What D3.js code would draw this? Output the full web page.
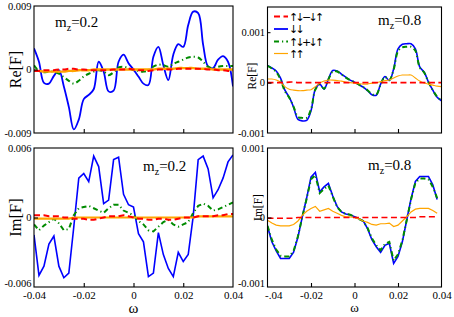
<!DOCTYPE html>
<html><head><meta charset="utf-8">
<script src="https://cdn.jsdelivr.net/npm/d3@7/dist/d3.min.js"></script>
<style>
html,body{margin:0;padding:0;background:#fff;}
svg{display:block;font-family:"Liberation Serif","Times New Roman",serif;}
</style></head><body>
<svg id="c" width="454" height="317"></svg>
<script>
// ---------- data ----------
const omega = [-0.040,-0.038,-0.036,-0.034,-0.032,-0.030,-0.028,-0.026,-0.024,-0.022,-0.020,-0.018,-0.016,-0.014,-0.012,-0.010,-0.008,-0.006,-0.004,-0.002,0.000,0.002,0.004,0.006,0.008,0.010,0.012,0.014,0.016,0.018,0.020,0.022,0.024,0.026,0.028,0.030,0.032,0.034,0.036,0.038,0.040];
const omegaShort = [-0.040,-0.038,-0.036,-0.034,-0.032,-0.030,-0.028,-0.026,-0.024,-0.022,-0.020,-0.018,-0.016,-0.014,-0.012,-0.010,-0.008,-0.006,-0.004,-0.002,0.000,0.002,0.004,0.006,0.008,0.010,0.012,0.014,0.016,0.018,0.020,0.022,0.024,0.026,0.028,0.030,0.032,0.034,0.036,0.038];

const seriesNames = ["↑↓−↓↑","↓↓","↑↓+↓↑","↑↑"];

// Re[F], m_z = 0.2
const re02Minus = [-0.0002,-0.0002,-0.0001,-0.0001,-0.0001,0,0,0.0001,0.0001,0,0,-0.0001,-0.0001,-0.0001,-0.0001,-0.0001,0,0,0,0.0001,0,-0.0001,-0.0001,-0.0002,-0.0001,0,0,0,0,0.0001,0.0001,0.0001,0.0001,0.0001,0.0001,0,0,-0.0001,-0.0001,-0.0002,-0.0002];
const re02DownDown = [0.0030,0.0011,-0.0019,-0.0020,-0.0009,-0.0001,-0.0024,-0.0053,-0.0085,-0.0071,-0.0042,-0.0036,-0.0028,0.0011,-0.0003,-0.0031,-0.0030,0.0011,0.0021,0.0009,0.0000,-0.0010,-0.0020,-0.0022,0.0018,0.0032,0.0006,-0.0015,0.0021,0.0036,0.0032,0.0063,0.0082,0.0080,0.0035,0.0004,0.0002,0.0014,0.0019,0.0011,-0.0024];
const re02Plus = [0.0006,-0.0002,-0.0004,-0.0003,-0.0003,-0.0006,-0.0011,-0.0016,-0.0020,-0.0016,-0.0010,-0.0006,-0.0003,-0.0001,-0.0003,-0.0008,-0.0004,0.0003,0.0004,0.0002,-0.0001,-0.0002,-0.0003,-0.0001,0.0004,0.0007,0.0006,0.0004,0.0008,0.0011,0.0014,0.0017,0.0018,0.0017,0.0011,0.0004,0.0002,0.0004,0.0005,0.0005,0.0005];
const re02UpUp = [-0.0002,-0.0002,-0.0003,-0.0003,-0.0003,-0.0003,-0.0003,-0.0002,-0.0002,-0.0001,-0.0001,-0.0001,0,0,0,0,0,0,0,0,0,0,0,0,0,0.0001,0.0001,0.0001,0.0001,0.0002,0.0002,0.0002,0.0002,0.0001,0.0001,0.0001,0,0,0,0,0];

// Re[F], m_z = 0.8
const re08Minus = [0,0,0,0,0,0.00001,0.00001,0,0,0,0,0,0,0,0,0,0,0,0,0,0,0,0,0,0,0,0,0,0,0,0,0,0,0,0,0,0,0,0,0,0];
const re08DownDown = [0.00034,0.00029,0.00023,0.00009,-0.00015,-0.00029,-0.00049,-0.00073,-0.00076,-0.00075,-0.00056,-0.00013,-0.00003,-0.00013,0.00007,0.00024,0.00023,0.00017,0.00011,0.00005,0.00001,-0.00004,-0.00009,-0.00016,-0.00024,-0.00025,-0.00003,0.00012,0.00004,0.00027,0.00067,0.00076,0.00077,0.00077,0.00067,0.00031,0.00021,0.00001,-0.00015,-0.00029,-0.00036];
const re08Plus = [0.00033,0.00028,0.00021,0.00006,-0.00017,-0.00030,-0.00048,-0.00068,-0.00070,-0.00070,-0.00053,-0.00014,-0.00004,-0.00012,0.00006,0.00022,0.00022,0.00016,0.00010,0.00005,0.00001,-0.00004,-0.00009,-0.00015,-0.00023,-0.00024,-0.00004,0.00011,0.00005,0.00026,0.00062,0.00070,0.00071,0.00071,0.00063,0.00030,0.00020,0.00001,-0.00015,-0.00028,-0.00035];
const re08UpUp = [0.00007,0.00007,0.00005,0.00001,-0.00008,-0.00013,-0.00015,-0.00016,-0.00016,-0.00015,-0.00014,-0.00008,-0.00001,0.00003,0.00005,0.00005,0.00004,0.00003,0.00001,0,-0.00001,-0.00002,-0.00003,-0.00003,-0.00001,0,0.00002,0.00004,0.00005,0.00009,0.00013,0.00015,0.00015,0.00015,0.00009,0.00003,-0.00001,-0.00003,-0.00005,-0.00007,-0.00008];

// Im[F], m_z = 0.2
const im02Minus = [0.0002,0.0002,0.0002,0.0001,0.0001,0.0001,0,0,-0.0001,-0.0001,-0.0001,-0.0002,-0.0002,-0.0001,0,0.0001,0.0001,0.0001,0.0002,0.0001,0,-0.0001,-0.0001,-0.0002,-0.0002,-0.0001,-0.0001,-0.0002,-0.0002,-0.0001,0,0,0,0.0001,0.0001,0.0001,0.0001,0.0002,0.0002,0.0003,0.0003];
const im02DownDown = [-0.0015,-0.0050,-0.0042,-0.0023,-0.0016,-0.0042,-0.0052,-0.0048,-0.0008,0.0034,0.0038,0.0031,0.0053,0.0044,0.0012,0.0015,0.0050,0.0052,0.0020,0.0011,0.0009,-0.0014,-0.0021,-0.0051,-0.0048,-0.0013,-0.0032,-0.0044,-0.0051,-0.0030,-0.0038,-0.0032,0.0001,0.0050,0.0053,0.0042,0.0017,0.0024,0.0034,0.0048,0.0054];
const im02Plus = [-0.0006,-0.0011,-0.0007,-0.0004,-0.0001,-0.0005,-0.0011,-0.0010,0.0002,0.0008,0.0009,0.0010,0.0008,0.0006,0.0004,0.0008,0.0011,0.0011,0.0006,0.0004,0.0002,-0.0003,-0.0006,-0.0011,-0.0012,-0.0008,-0.0004,-0.0002,-0.0006,-0.0008,-0.0006,-0.0004,0.0004,0.0010,0.0012,0.0010,0.0006,0.0007,0.0009,0.0011,0.0013];
const im02UpUp = [-0.0001,-0.0001,-0.0001,-0.0001,-0.0001,-0.0001,-0.0001,-0.0001,0,0,0,0,0,0,0,0,0,0,0,0,0,0,0,0,0,0,0,0,0,0,0,0,0,0.0001,0.0001,0.0001,0.0001,0.0001,0.0001,0.0001,0.0001];

// Im[F], m_z = 0.8
const im08Minus = [-0.00001,-0.00001,-0.00001,-0.00001,-0.00001,-0.00001,-0.00001,0,0,0,0,0,0,0,0,0,0,0,0,0,0,0,0,0,0,0,0,0,0,0,0,0,0,0,0,0.00001,0.00001,0.00001,0.00001,0.00001];
const im08DownDown = [-0.00013,-0.00035,-0.00048,-0.00059,-0.00059,-0.00059,-0.00050,-0.00028,0.00001,0.00028,0.00058,0.00065,0.00037,0.00044,0.00049,0.00031,0.00016,0.00008,0.00005,0.00004,0.00001,-0.00002,-0.00005,-0.00016,-0.00032,-0.00042,-0.00050,-0.00040,-0.00037,-0.00066,-0.00056,-0.00035,-0.00004,0.00027,0.00052,0.00059,0.00059,0.00059,0.00047,0.00026];
const im08Plus = [-0.00012,-0.00032,-0.00046,-0.00055,-0.00056,-0.00056,-0.00048,-0.00027,0.00001,0.00027,0.00055,0.00061,0.00035,0.00041,0.00046,0.00030,0.00015,0.00008,0.00005,0.00004,0.00001,-0.00002,-0.00005,-0.00015,-0.00030,-0.00040,-0.00047,-0.00038,-0.00035,-0.00062,-0.00053,-0.00033,-0.00004,0.00026,0.00050,0.00056,0.00056,0.00055,0.00044,0.00028];
const im08UpUp = [-0.00004,-0.00008,-0.00011,-0.00012,-0.00012,-0.00012,-0.00010,-0.00005,0.00003,0.00009,0.00013,0.00016,0.00009,0.00011,0.00013,0.00009,0.00006,0.00003,0.00001,0.00001,0,-0.00002,-0.00005,-0.00007,-0.00010,-0.00011,-0.00009,-0.00009,-0.00008,-0.00013,-0.00011,-0.00005,0.00001,0.00008,0.00012,0.00013,0.00013,0.00013,0.00010,0.00006];

// tick labels
const xTickValues = [-0.04,-0.02,0,0.02,0.04];
const xTickLabelsLeft = ["-0.04","-0.02","0","0.02","0.04"];
const xTickLabelsRight = ["-.04","-0.02","0","0.02","0.04"];
const yTicksRe02 = [-0.009,0,0.009], yLabelsRe02 = ["-0.009","0","0.009"];
const yTicksRe08 = [-0.001,0,0.001], yLabelsRe08 = ["-0.001","0","0.001"];
const yTicksIm02 = [-0.006,0,0.006], yLabelsIm02 = ["-0.006","0","0.006"];
const yTicksIm08 = [-0.001,0,0.001], yLabelsIm08 = ["-0.001","0","0.001"];

// ---------- drawing ----------
const svg = d3.select("#c");
const colors = ["#ff0000","#0000ff","#008b00","#ffa500"];
const dashes = ["6,3.5", null, "5,3,1.2,3", null];

const panels = [
  {x0:34, x1:233, y0:6, y1:133, yd:[-0.009,0.009], om:omega, data:[re02Minus,re02DownDown,re02Plus,re02UpUp],
   curve:d3.curveCatmullRom.alpha(0.5), yt:yTicksRe02, yl:yLabelsRe02, ylab:"Re[F]", ylabX:21, ylabFs:16,
   mz:"0.2", mzX:55, mzY:27, xl:null, widths:[2,1.8,2,2.4]},
  {x0:267.5, x1:441.5, y0:7, y1:133, yd:[-0.001,0.0015], om:omega, data:[re08Minus,re08DownDown,re08Plus,re08UpUp],
   curve:d3.curveCatmullRom.alpha(0.5), yt:yTicksRe08, yl:yLabelsRe08, ylab:"Re[F]", ylabX:256, ylabFs:11.5,
   mz:"0.8", mzX:378, mzY:25, xl:null, widths:[1.6,1.6,2,1.1], legend:true},
  {x0:34, x1:233, y0:148, y1:287, yd:[-0.006,0.006], om:omega, data:[im02Minus,im02DownDown,im02Plus,im02UpUp],
   curve:d3.curveLinear, yt:yTicksIm02, yl:yLabelsIm02, ylab:"Im[F]", ylabX:21, ylabFs:16.5,
   mz:"0.2", mzX:143, mzY:171, xl:xTickLabelsLeft, widths:[2,1.6,2,2.2]},
  {x0:267.5, x1:441.5, y0:148, y1:287, yd:[-0.001,0.001], om:omegaShort, data:[im08Minus,im08DownDown,im08Plus,im08UpUp],
   curve:d3.curveLinear, yt:yTicksIm08, yl:yLabelsIm08, ylab:"Im[F]", ylabX:262, ylabFs:11.5,
   mz:"0.8", mzX:368, mzY:170, xl:xTickLabelsRight, widths:[1.6,1.6,2,1.2]}
];

panels.forEach((p,pi) => {
  const x = d3.scaleLinear().domain([-0.04,0.04]).range([p.x0,p.x1]);
  const y = d3.scaleLinear().domain(p.yd).range([p.y1,p.y0]);
  const g = svg.append("g");
  const clipId = "clip"+pi;
  svg.append("clipPath").attr("id",clipId).append("rect")
    .attr("x",p.x0).attr("y",p.y0).attr("width",p.x1-p.x0).attr("height",p.y1-p.y0);

  // lines (order: blue, green, orange, red)
  const line = d3.line().x((d,i)=>x(p.om[i])).y(d=>y(d)).curve(p.curve);
  [1,2,3,0].forEach(si => {
    g.append("path").attr("clip-path",`url(#${clipId})`)
      .attr("d", line(p.data[si]))
      .attr("fill","none").attr("stroke",colors[si])
      .attr("stroke-width",p.widths[si])
      .attr("stroke-dasharray",dashes[si]);
  });

  // frame
  g.append("rect").attr("x",p.x0).attr("y",p.y0).attr("width",p.x1-p.x0).attr("height",p.y1-p.y0)
    .attr("fill","none").attr("stroke","#000").attr("stroke-width",1.1);

  // inward x ticks
  const xt = g.append("g").attr("transform",`translate(0,${p.y1})`)
    .call(d3.axisTop(x).tickValues([-0.02,0,0.02]).tickSize(4).tickFormat(""));
  xt.select(".domain").remove();
  xt.selectAll("line").attr("stroke","#000").attr("stroke-width",1.1);

  // inward y ticks
  const ytk = g.append("g").attr("transform",`translate(${p.x0},0)`)
    .call(d3.axisRight(y).tickValues([0]).tickSize(4).tickFormat(""));
  ytk.select(".domain").remove();
  ytk.selectAll("line").attr("stroke","#000").attr("stroke-width",1.1);
  if (pi===1) {
    const yt2 = g.append("g").attr("transform",`translate(${p.x0},0)`)
      .call(d3.axisRight(y).tickValues([0.001]).tickSize(3).tickFormat(""));
    yt2.select(".domain").remove();
    yt2.selectAll("line").attr("stroke","#000");
  }

  // y tick labels
  const yla = g.append("g").attr("transform",`translate(${p.x0-2.5},0)`)
    .call(d3.axisLeft(y).tickValues(p.yt).tickSize(0).tickPadding(0).tickFormat((d,i)=>p.yl[i]));
  yla.attr("font-family",null);
  yla.select(".domain").remove();
  yla.selectAll("text").attr("font-family","Liberation Serif").attr("font-size",10.5).attr("fill","#000");
  if (p.xl) {
    yla.selectAll("text").filter((d,i)=>i===0).attr("dy","-0.05em");
  }

  // x tick labels (bottom panels)
  if (p.xl) {
    const xla = g.append("g").attr("transform",`translate(0,${p.y1})`)
      .call(d3.axisBottom(x).tickValues(xTickValues).tickSize(0).tickPadding(4.5).tickFormat((d,i)=>p.xl[i]));
    xla.attr("font-family",null);
    xla.select(".domain").remove();
    xla.selectAll("text").attr("font-family","Liberation Serif").attr("font-size",11).attr("fill","#000");
    if (pi===3) {
      xla.selectAll("text").filter((d,i)=>i===0).attr("text-anchor","start").attr("dx",-3);
    }
    g.append("text").attr("x",(p.x0+p.x1)/2).attr("y", pi===2 ? 313 : 312)
      .attr("text-anchor","middle").attr("font-size", pi===2 ? 15 : 13).text("ω");
  }

  // y axis label
  g.append("text").attr("transform",`translate(${p.ylabX},${(p.y0+p.y1)/2 + (pi===3 ? -10 : (pi===1? 6:0))}) rotate(-90)`)
    .attr("text-anchor","middle").attr("font-size",p.ylabFs).text(p.ylab);

  // m_z annotation
  const t = g.append("text").attr("x",p.mzX).attr("y",p.mzY).attr("font-size",15);
  t.append("tspan").text("m");
  t.append("tspan").attr("font-size",10).attr("dy",4).text("z");
  t.append("tspan").attr("dy",-4).text("=" + p.mz);

  // legend
  if (p.legend) {
    const rowsY = [16.5,29,41.5,53.5];
    seriesNames.forEach((nm,i) => {
      g.append("line").attr("x1",274).attr("x2",288).attr("y1",rowsY[i]).attr("y2",rowsY[i])
        .attr("stroke",colors[i]).attr("stroke-width",i===3?1.2:1.8).attr("stroke-dasharray",dashes[i]);
      g.append("text").attr("x",289).attr("y",rowsY[i]+4).attr("font-size",11)
        .attr("font-family","DejaVu Sans").attr("letter-spacing",-2.7).text(nm);
    });
  }
});
</script>
</body></html>
